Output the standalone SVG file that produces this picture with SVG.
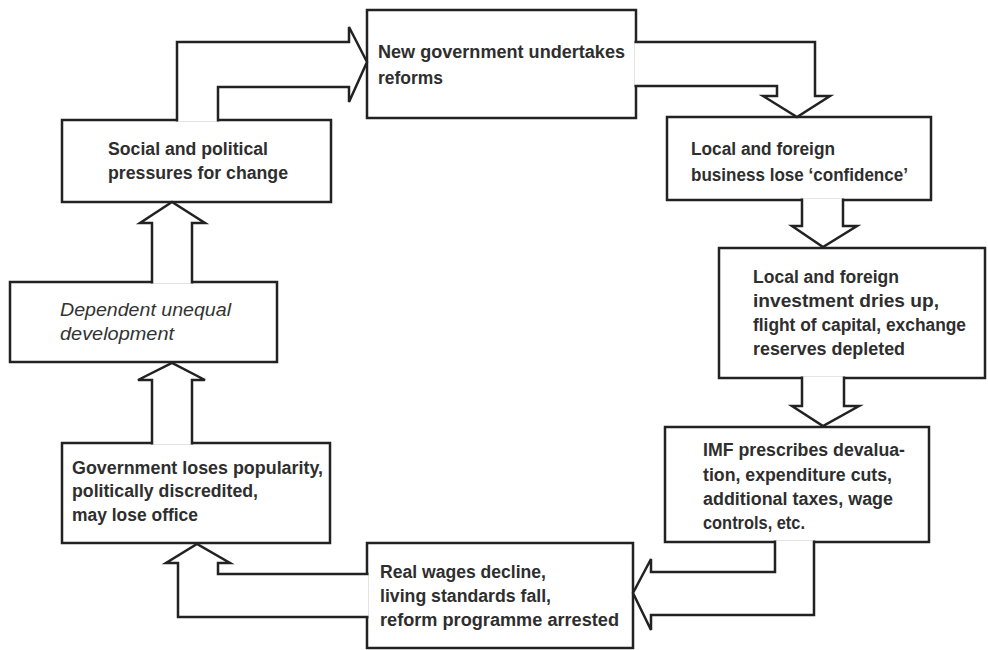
<svg xmlns="http://www.w3.org/2000/svg" width="988" height="650" viewBox="0 0 988 650">
<style>
.box{fill:#fff;stroke:#222;stroke-width:2.5}
.arr{fill:#fff;stroke:#222;stroke-width:2.5;stroke-linejoin:miter}
text{font-family:"Liberation Sans",Arial,sans-serif;font-size:17.5px;font-weight:bold;fill:#2e2e2e}
.it{font-style:italic;font-weight:normal;fill:#333}
</style>
<rect width="988" height="650" fill="#fff"/>
<g id="nodes">
<g id="newgov"><rect class="box" x="367" y="10" width="269" height="108"/>
<text x="378" y="58" textLength="247" lengthAdjust="spacingAndGlyphs">New government undertakes</text>
<text x="378" y="84" textLength="65" lengthAdjust="spacingAndGlyphs">reforms</text></g>
<g id="business"><rect class="box" x="667" y="117" width="264" height="83"/>
<text x="691" y="155" textLength="144" lengthAdjust="spacingAndGlyphs">Local and foreign</text>
<text x="691" y="181" textLength="217" lengthAdjust="spacingAndGlyphs">business lose ‘confidence’</text></g>
<g id="investment"><rect class="box" x="719" y="248" width="266" height="130"/>
<text x="753" y="283" textLength="146" lengthAdjust="spacingAndGlyphs">Local and foreign</text>
<text x="753" y="307" textLength="186" lengthAdjust="spacingAndGlyphs">investment dries up,</text>
<text x="753" y="331" textLength="213" lengthAdjust="spacingAndGlyphs">flight of capital, exchange</text>
<text x="753" y="355" textLength="152" lengthAdjust="spacingAndGlyphs">reserves depleted</text></g>
<g id="imf"><rect class="box" x="665" y="427" width="264" height="115"/>
<text x="703" y="456" textLength="202" lengthAdjust="spacingAndGlyphs">IMF prescribes devalua-</text>
<text x="703" y="481" textLength="189" lengthAdjust="spacingAndGlyphs">tion, expenditure cuts,</text>
<text x="703" y="505" textLength="190" lengthAdjust="spacingAndGlyphs">additional taxes, wage</text>
<text x="703" y="529" textLength="102" lengthAdjust="spacingAndGlyphs">controls, etc.</text></g>
<g id="realwages"><rect class="box" x="367" y="543" width="266" height="105"/>
<text x="380" y="578" textLength="166" lengthAdjust="spacingAndGlyphs">Real wages decline,</text>
<text x="380" y="602" textLength="171" lengthAdjust="spacingAndGlyphs">living standards fall,</text>
<text x="380" y="626" textLength="239" lengthAdjust="spacingAndGlyphs">reform programme arrested</text></g>
<g id="government"><rect class="box" x="62" y="443" width="268" height="100"/>
<text x="72" y="474" textLength="251" lengthAdjust="spacingAndGlyphs">Government loses popularity,</text>
<text x="72" y="497" textLength="186" lengthAdjust="spacingAndGlyphs">politically discredited,</text>
<text x="72" y="521" textLength="126" lengthAdjust="spacingAndGlyphs">may lose office</text></g>
<g id="dependent"><rect class="box" x="10" y="282" width="267" height="80"/>
<text class="it" x="60" y="316" textLength="171" lengthAdjust="spacingAndGlyphs">Dependent unequal</text>
<text class="it" x="60" y="340" textLength="114" lengthAdjust="spacingAndGlyphs">development</text></g>
<g id="social"><rect class="box" x="62" y="120" width="269" height="82"/>
<text x="108" y="155" textLength="160" lengthAdjust="spacingAndGlyphs">Social and political</text>
<text x="108" y="179" textLength="180" lengthAdjust="spacingAndGlyphs">pressures for change</text></g>
</g>
<g id="connectors">
<path class="arr" d="M177,121.5 V42 H349 V27 L367,62 L349,102 V87 H218 V121.5"/>
<path class="arr" d="M634.5,42 H815 V96 H830 L797,117 L763,96 H777 V86 H634.5"/>
<path class="arr" d="M802,198.5 V226 H792 L823,247 L857,226 H843 V198.5"/>
<path class="arr" d="M802,376.5 V406 H792 L823,426 L859,406 H844 V376.5"/>
<path class="arr" d="M775,540.5 V572 H651 V559 L633,593 L651,630 V615 H814 V540.5"/>
<path class="arr" d="M368.5,574 H218 V563 H230 L197,544 L166,563 H178 V617 H368.5"/>
<path class="arr" d="M152,444.5 V380 H138 L172,363 L205,380 H192 V444.5"/>
<path class="arr" d="M152,283.5 V223 H140 L172,202 L205,223 H192 V283.5"/>
</g>
</svg>
